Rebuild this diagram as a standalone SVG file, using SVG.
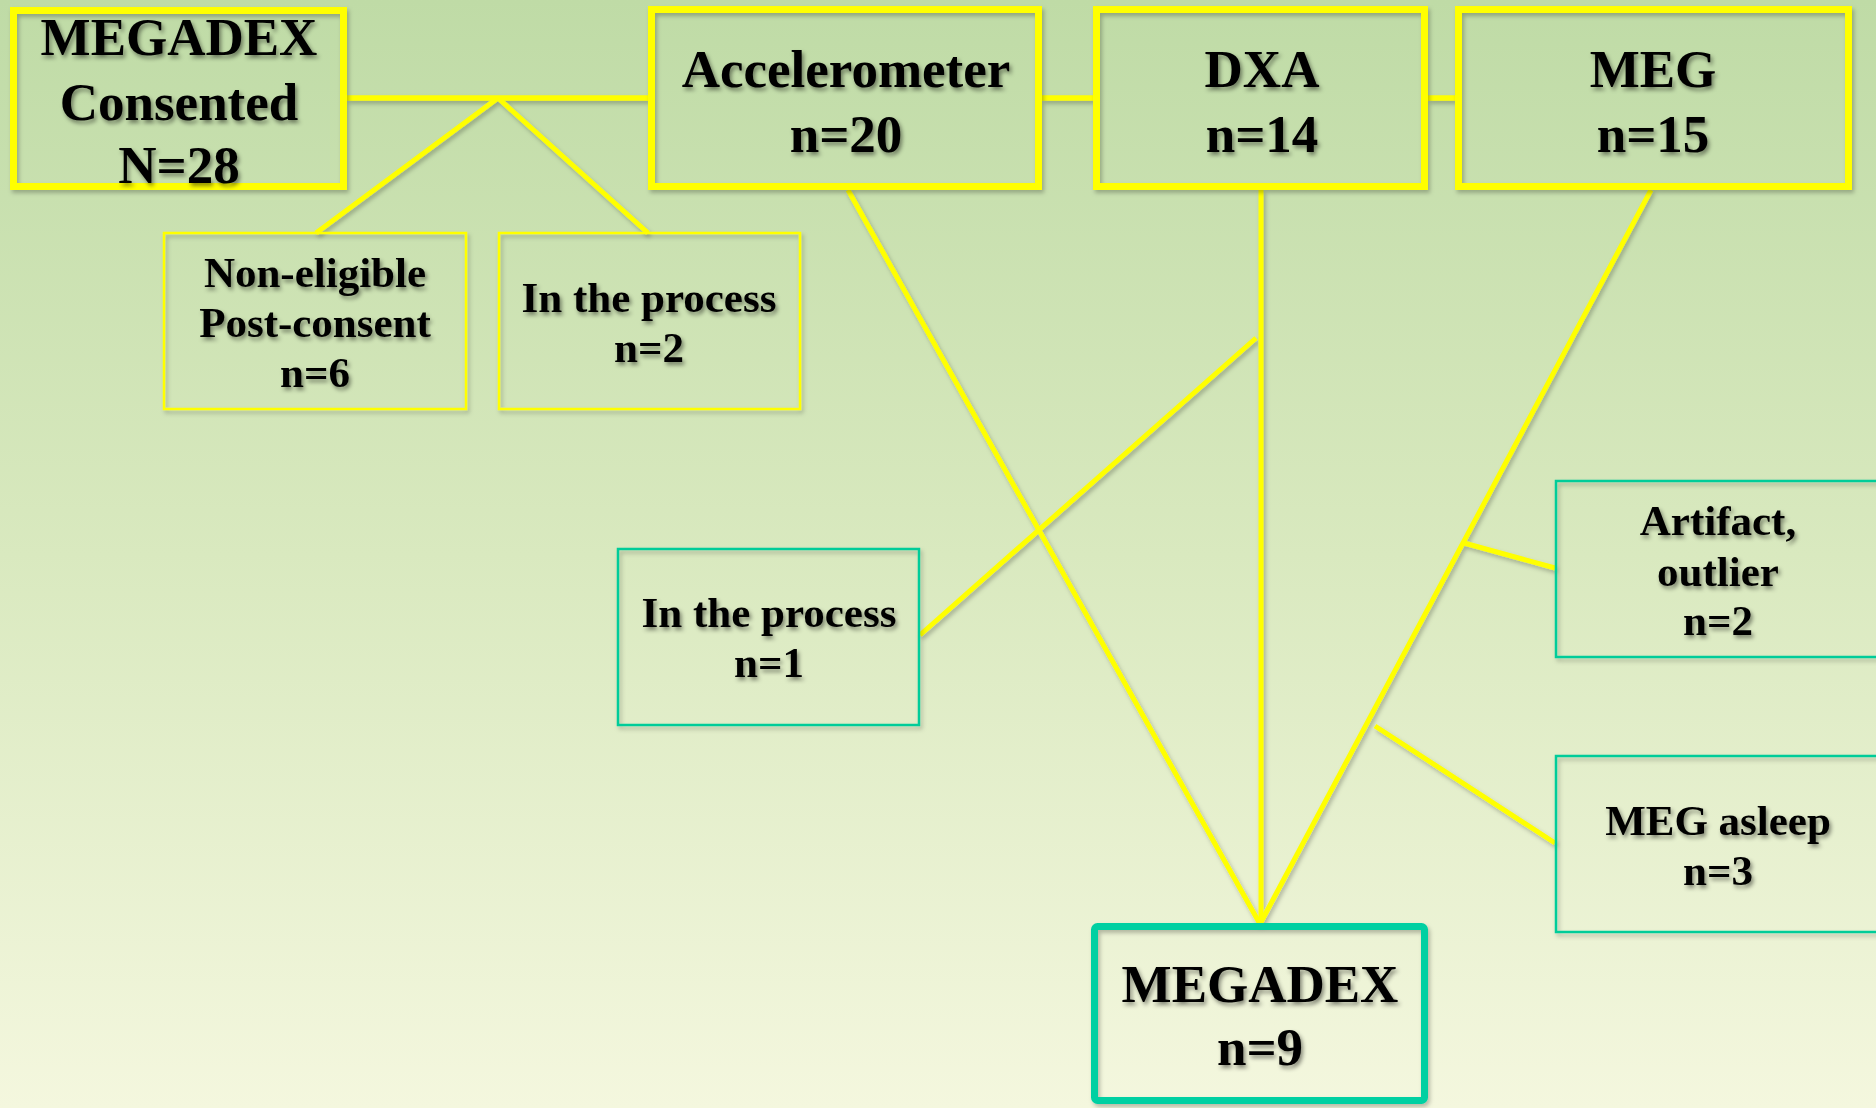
<svg xmlns="http://www.w3.org/2000/svg" width="1876" height="1108" viewBox="0 0 1876 1108">
<defs>
<linearGradient id="bg" x1="0" y1="0" x2="0" y2="1">
<stop offset="0" stop-color="#bfdba6"/>
<stop offset="0.5" stop-color="#d9e9bf"/>
<stop offset="1" stop-color="#f4f7de"/>
</linearGradient>
<filter id="ts" x="-10%" y="-20%" width="130%" height="150%">
<feDropShadow dx="2" dy="3" stdDeviation="2" flood-color="#000" flood-opacity="0.45"/>
</filter>
<filter id="bs" x="-5%" y="-5%" width="115%" height="115%">
<feDropShadow dx="2" dy="3" stdDeviation="2" flood-color="#000" flood-opacity="0.25"/>
</filter>
</defs>
<style>
text{font-family:"Liberation Serif","Times New Roman",serif;font-weight:bold;fill:#000;text-anchor:middle}
.big{font-size:53px}
.mid{font-size:53px}
.sm{font-size:43px}
.ybig{fill:none;stroke:#ffff00;stroke-width:7}
.ythin{fill:none;stroke:#ffff00;stroke-width:2.5}
.tthin{fill:none;stroke:#00cc99;stroke-width:2.5}
.tbig{fill:none;stroke:#00d0a2;stroke-width:7}
.conn line{stroke:#ffff00;stroke-width:5;stroke-linecap:butt}
</style>
<rect x="0" y="0" width="1876" height="1108" fill="url(#bg)"/>
<g id="connectors" class="conn" filter="url(#bs)">
<line x1="347" y1="98" x2="648" y2="98" style="stroke-width:5.5"/>
<line x1="1042" y1="98" x2="1093" y2="98" style="stroke-width:5.5"/>
<line x1="1428" y1="98" x2="1455" y2="98" style="stroke-width:5.5"/>
<line x1="498" y1="98" x2="316" y2="233"/>
<line x1="498" y1="98" x2="648" y2="233"/>
<line x1="848" y1="190" x2="1260" y2="924"/>
<line x1="1261" y1="190" x2="1261" y2="924"/>
<line x1="1651" y1="190" x2="1260" y2="924"/>
<line x1="1256" y1="338" x2="920" y2="635"/>
<line x1="1464" y1="543" x2="1555" y2="568"/>
<line x1="1375" y1="726" x2="1555" y2="843"/>
</g>
<g id="consented">
<rect class="ybig" x="13.5" y="10.5" width="330" height="176" filter="url(#bs)"/>
<g filter="url(#ts)">
<text class="big" x="179" y="55">MEGADEX</text>
<text class="big" x="179" y="120">Consented</text>
<text class="big" x="179" y="183">N=28</text>
</g>
</g>
<g id="accelerometer">
<rect class="ybig" x="651.5" y="9.5" width="387" height="177" filter="url(#bs)"/>
<g filter="url(#ts)">
<text class="mid" x="846" y="87">Accelerometer</text>
<text class="mid" x="846" y="152">n=20</text>
</g>
</g>
<g id="dxa">
<rect class="ybig" x="1096.5" y="9.5" width="328" height="177" filter="url(#bs)"/>
<g filter="url(#ts)">
<text class="mid" x="1262" y="87">DXA</text>
<text class="mid" x="1262" y="152">n=14</text>
</g>
</g>
<g id="meg">
<rect class="ybig" x="1458.5" y="9.5" width="390" height="177" filter="url(#bs)"/>
<g filter="url(#ts)">
<text class="mid" x="1653" y="87">MEG</text>
<text class="mid" x="1653" y="152">n=15</text>
</g>
</g>
<g id="noneligible">
<rect class="ythin" x="164" y="233" width="302" height="176" filter="url(#bs)"/>
<g filter="url(#ts)">
<text class="sm" x="315" y="287">Non-eligible</text>
<text class="sm" x="315" y="337">Post-consent</text>
<text class="sm" x="315" y="387">n=6</text>
</g>
</g>
<g id="inprocess2">
<rect class="ythin" x="499" y="233" width="301" height="176" filter="url(#bs)"/>
<g filter="url(#ts)">
<text class="sm" x="649" y="312">In the process</text>
<text class="sm" x="649" y="362">n=2</text>
</g>
</g>
<g id="inprocess1">
<rect class="tthin" x="618" y="549" width="301" height="176" filter="url(#bs)"/>
<g filter="url(#ts)">
<text class="sm" x="769" y="627">In the process</text>
<text class="sm" x="769" y="677">n=1</text>
</g>
</g>
<g id="artifact">
<rect class="tthin" x="1556" y="481" width="330" height="176" filter="url(#bs)"/>
<g filter="url(#ts)">
<text class="sm" x="1718" y="535">Artifact,</text>
<text class="sm" x="1718" y="586">outlier</text>
<text class="sm" x="1718" y="635">n=2</text>
</g>
</g>
<g id="megasleep">
<rect class="tthin" x="1556" y="756" width="330" height="176" filter="url(#bs)"/>
<g filter="url(#ts)">
<text class="sm" x="1718" y="835">MEG asleep</text>
<text class="sm" x="1718" y="885">n=3</text>
</g>
</g>
<g id="megadex">
<rect class="tbig" x="1094.5" y="926.5" width="330" height="174" rx="3" filter="url(#bs)"/>
<g filter="url(#ts)">
<text class="big" x="1260" y="1002">MEGADEX</text>
<text class="big" x="1260" y="1065">n=9</text>
</g>
</g>
</svg>
